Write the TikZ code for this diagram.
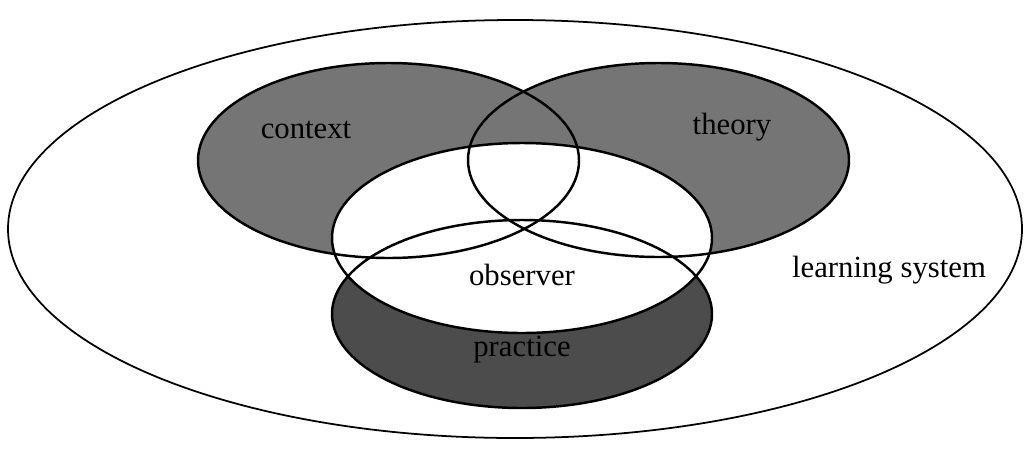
\documentclass[tikz,border=0pt]{standalone}
\usepackage{fontspec}
\setmainfont{Liberation Serif}
\usetikzlibrary{positioning}

\begin{document}
\begin{tikzpicture}[
    x=0.02cm, y=0.02cm,
    ring/.style={draw=black, line width=1.4pt},
    outerring/.style={draw=black, line width=1.0pt},
    setfill/.style={fill=black!54},
    darkfill/.style={fill=black!70},
    lbl/.style={font=\fontsize{17.5}{20}\selectfont, text=black, inner sep=0pt},
]

% Ellipse centres
\def\cxC{388.5} \def\cyC{290.5}
\def\cxT{658.5} \def\cyT{291}
\def\cxO{522}   \def\cyO{213}
\def\cxP{522}   \def\cyP{137}

\useasboundingbox (0,0) rectangle (1026,451);

% ====== LEARNING SYSTEM ======
\draw[outerring] (515,222) ellipse [x radius=507, y radius=209];

% ====== FILLS ======
\fill[setfill] (\cxC,\cyC) ellipse [x radius=190.5, y radius=97.5];
\fill[setfill] (\cxT,\cyT) ellipse [x radius=190.5, y radius=97];
\fill[darkfill] (\cxP,\cyP) ellipse [x radius=190, y radius=94];
\fill[white] (\cxO,\cyO) ellipse [x radius=190, y radius=95];

% ====== OUTLINES ======
\draw[ring] (\cxC,\cyC) ellipse [x radius=190.5, y radius=97.5];
\draw[ring] (\cxT,\cyT) ellipse [x radius=190.5, y radius=97];
\draw[ring] (\cxO,\cyO) ellipse [x radius=190, y radius=95];
\draw[ring] (\cxP,\cyP) ellipse [x radius=190, y radius=94];

% ====== LABELS ======
\node[lbl] (context) at (306,321) {context};
\node[lbl] (theory) at (732,324) {theory};
\node[lbl] (observer) at (522,176) {observer};
\node[lbl] (practice) at (522,101) {practice};
\node[lbl] (learning) at (889,181) {learning system};

\end{tikzpicture}
\end{document}
